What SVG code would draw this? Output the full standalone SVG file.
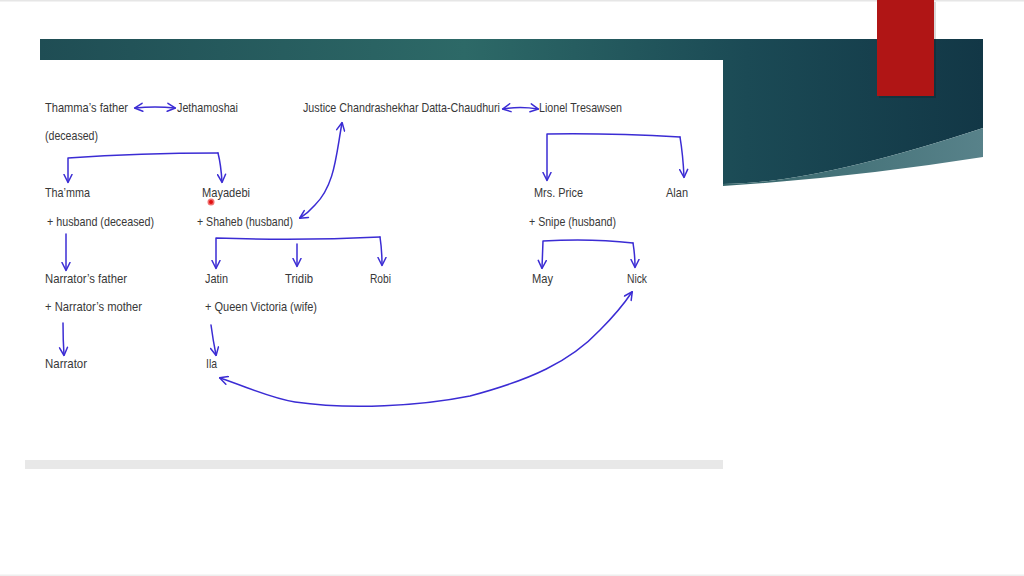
<svg xmlns="http://www.w3.org/2000/svg" width="1024" height="576" viewBox="0 0 1024 576">
<defs>
<style>
text{font-family:"Liberation Sans",Arial,sans-serif;font-size:13px;fill:#383838;}
.c{fill:none;stroke:#3b2cd4;stroke-width:1.5;stroke-linecap:round;stroke-linejoin:round;}
</style>
<linearGradient id="teal" x1="0" y1="0" x2="1" y2="0">
<stop offset="0" stop-color="#1f4d54"/>
<stop offset="0.45" stop-color="#2d6967"/>
<stop offset="0.75" stop-color="#1b4a55"/>
<stop offset="1" stop-color="#123746"/>
</linearGradient>
<linearGradient id="band" x1="0" y1="0" x2="1" y2="0">
<stop offset="0" stop-color="#36666b"/>
<stop offset="1" stop-color="#58828a"/>
</linearGradient>
<marker id="ah" viewBox="0 0 10 10" refX="8.5" refY="5" markerWidth="10" markerHeight="10" orient="auto-start-reverse" markerUnits="userSpaceOnUse">
<path d="M1,1 L9,5 L1,9" fill="none" stroke="#3b2cd4" stroke-width="1.5" stroke-linecap="round" stroke-linejoin="round"/>
</marker>
</defs>
<rect width="1024" height="576" fill="#ffffff"/>
<rect x="0" y="0" width="1024" height="1.5" fill="#e6e6e6"/>
<rect x="0" y="574.5" width="1024" height="1.5" fill="#eeeeee"/>
<g id="background">
<path d="M40,39 H983 V128 Q813,184 723,184 V60 H40 Z" fill="url(#teal)"/>
<path d="M723,184 Q813,184 983,128 V157 Q850,178 723,186 Z" fill="url(#band)"/>
<rect x="879" y="2" width="57" height="96" fill="#000" opacity="0.15"/>
<rect x="877" y="0" width="57" height="96" fill="#b01515"/>
<rect x="25" y="460" width="698" height="9" fill="#e8e8e8"/>
<circle cx="211" cy="202" r="3.5" fill="#f07070"/>
<circle cx="211" cy="202" r="2" fill="#e01010"/>
</g>
<g id="connectors">
<path class="c" marker-start="url(#ah)" marker-end="url(#ah)" d="M135,108 Q155,106 175,108"/>
<path class="c" marker-start="url(#ah)" marker-end="url(#ah)" d="M503,109 Q520,106 538,109"/>
<path class="c" marker-end="url(#ah)" d="M218,153 Q140,153 68,158 L68,182"/>
<path class="c" marker-end="url(#ah)" d="M218,153 Q221,165 222,182"/>
<path class="c" marker-start="url(#ah)" marker-end="url(#ah)" d="M342,123 C336,155 335,185 315,205 Q308,213 300,218"/>
<path class="c" marker-end="url(#ah)" d="M680,137 Q610,133 547,134 L547,180"/>
<path class="c" marker-end="url(#ah)" d="M680,137 Q683,155 684,177"/>
<path class="c" marker-end="url(#ah)" d="M66,234 L66,270"/>
<path class="c" marker-end="url(#ah)" d="M380,237 Q300,241 216,238 L216,268"/>
<path class="c" marker-end="url(#ah)" d="M380,237 Q382,250 382,265"/>
<path class="c" marker-end="url(#ah)" d="M297,244 L297,266"/>
<path class="c" marker-end="url(#ah)" d="M63,323 Q63,340 64,355"/>
<path class="c" marker-end="url(#ah)" d="M211,325 Q213,340 216,355"/>
<path class="c" marker-end="url(#ah)" d="M633,243 Q590,238 543,241 L542,268"/>
<path class="c" marker-end="url(#ah)" d="M633,243 Q635,255 635,267"/>
<path class="c" marker-start="url(#ah)" marker-end="url(#ah)" d="M220,378 C250,388 270,398 295,402 C350,410 420,406 470,396 C530,380 570,362 600,330 Q620,310 632,292"/>
</g>
<g id="n-thamma-father"><text x="45" y="112" textLength="83" lengthAdjust="spacingAndGlyphs">Thamma’s father</text></g>
<g id="n-jethamoshai"><text x="177" y="112" textLength="61" lengthAdjust="spacingAndGlyphs">Jethamoshai</text></g>
<g id="n-deceased"><text x="45" y="140" textLength="53" lengthAdjust="spacingAndGlyphs">(deceased)</text></g>
<g id="n-justice"><text x="303" y="112" textLength="197" lengthAdjust="spacingAndGlyphs">Justice Chandrashekhar Datta-Chaudhuri</text></g>
<g id="n-lionel"><text x="539" y="112" textLength="83" lengthAdjust="spacingAndGlyphs">Lionel Tresawsen</text></g>
<g id="n-thamma"><text x="45" y="197" textLength="45" lengthAdjust="spacingAndGlyphs">Tha’mma</text><text x="47" y="226" textLength="107" lengthAdjust="spacingAndGlyphs">+ husband (deceased)</text></g>
<g id="n-mayadebi"><text x="202" y="197" textLength="48" lengthAdjust="spacingAndGlyphs">Mayadebi</text><text x="197" y="226" textLength="96" lengthAdjust="spacingAndGlyphs">+ Shaheb (husband)</text></g>
<g id="n-mrsprice"><text x="534" y="197" textLength="49" lengthAdjust="spacingAndGlyphs">Mrs. Price</text><text x="529" y="226" textLength="87" lengthAdjust="spacingAndGlyphs">+ Snipe (husband)</text></g>
<g id="n-alan"><text x="666" y="197" textLength="22" lengthAdjust="spacingAndGlyphs">Alan</text></g>
<g id="n-narrator-father"><text x="45" y="283" textLength="82" lengthAdjust="spacingAndGlyphs">Narrator’s father</text><text x="45" y="311" textLength="97" lengthAdjust="spacingAndGlyphs">+ Narrator’s mother</text></g>
<g id="n-jatin"><text x="205" y="283" textLength="23" lengthAdjust="spacingAndGlyphs">Jatin</text><text x="205" y="311" textLength="112" lengthAdjust="spacingAndGlyphs">+ Queen Victoria (wife)</text></g>
<g id="n-tridib"><text x="285" y="283" textLength="28" lengthAdjust="spacingAndGlyphs">Tridib</text></g>
<g id="n-robi"><text x="370" y="283" textLength="21" lengthAdjust="spacingAndGlyphs">Robi</text></g>
<g id="n-may"><text x="532" y="283" textLength="21" lengthAdjust="spacingAndGlyphs">May</text></g>
<g id="n-nick"><text x="627" y="283" textLength="20" lengthAdjust="spacingAndGlyphs">Nick</text></g>
<g id="n-narrator"><text x="45" y="368" textLength="42" lengthAdjust="spacingAndGlyphs">Narrator</text></g>
<g id="n-ila"><text x="206" y="368" textLength="11" lengthAdjust="spacingAndGlyphs">Ila</text></g>
</svg>
